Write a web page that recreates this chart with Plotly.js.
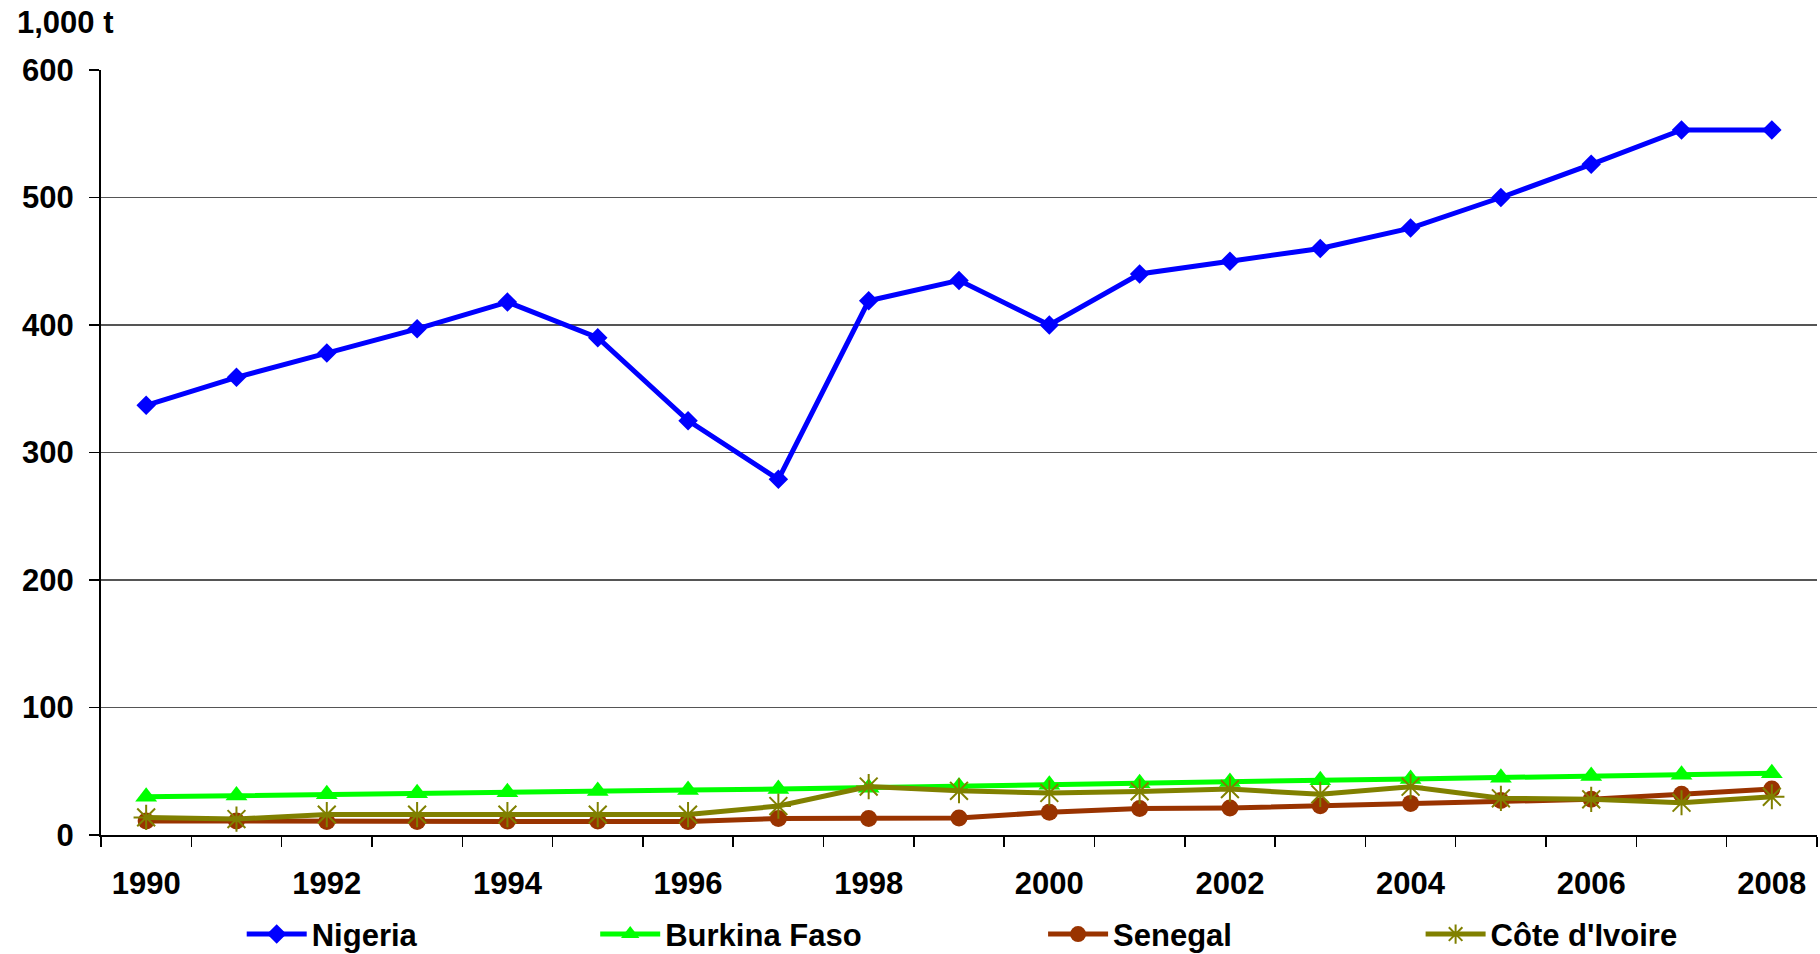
<!DOCTYPE html>
<html>
<head>
<meta charset="utf-8">
<script src="https://cdn.plot.ly/plotly-3.0.1.min.js"></script>
<style>
  html, body { margin: 0; padding: 0; background: #fff; }
  #chart { width: 1820px; height: 954px; }
</style>
</head>
<body>
<div id="chart"></div>
<script>
// Annual production, thousand tonnes
const years = [1990, 1991, 1992, 1993, 1994, 1995, 1996, 1997, 1998, 1999,
               2000, 2001, 2002, 2003, 2004, 2005, 2006, 2007, 2008];
const nigeria = [337, 359, 378, 397, 418, 390, 325, 279, 419, 435,
                 400, 440, 450, 460, 476, 500, 526, 553, 553];
const burkinaFaso = [30, 31, 32, 32.7, 33.5, 34.5, 35.3, 36, 37, 38,
                     39.5, 40.5, 41.6, 42.9, 44, 45, 46.3, 47.3, 48.4];
const senegal = [11, 11, 10.5, 10.5, 11, 11, 10.5, 13, 13, 13.4,
                 17.8, 20.7, 21.2, 23, 24.8, 27, 28, 32, 36];
const coteDIvoire = [13.8, 12.5, 16, 16, 16, 16, 16, 22.7, 38, 34.7,
                     33, 34.2, 36, 31.9, 37.9, 28.8, 28, 25.3, 30];
const yearLabels = [1990, 1992, 1994, 1996, 1998, 2000, 2002, 2004, 2006, 2008];

const FONT = 'Liberation Sans, Arial, sans-serif';
const TXT = { family: FONT, size: 31, color: '#000', weight: 'bold' };

function series(name, y, color, symbol, size, legendId, open) {
  return {
    type: 'scatter', mode: 'lines+markers', name: name,
    x: years, y: y, legend: legendId,
    line: { color: color, width: 5 },
    marker: open
      ? { symbol: symbol, size: size, color: color, line: { color: color, width: 2 } }
      : { symbol: symbol, size: size, color: color, line: { width: 0 } }
  };
}

const data = [
  series('Nigeria', nigeria, '#0000FF', 'diamond', 15, 'legend', false),
  series('Burkina Faso', burkinaFaso, '#00FF00', 'triangle-up', 19, 'legend2', false),
  series('Senegal', senegal, '#993300', 'circle', 17, 'legend3', false),
  series("Côte d'Ivoire", coteDIvoire, '#808000', 'asterisk-open', 21, 'legend4', true)
];

function legendAt(x) {
  return {
    orientation: 'h', x: x, xanchor: 'left', y: -0.13, yanchor: 'middle',
    font: TXT, bgcolor: 'rgba(0,0,0,0)', itemwidth: 60
  };
}

const layout = {
  width: 1820, height: 954,
  margin: { l: 101, r: 3, t: 70, b: 119, autoexpand: false },
  paper_bgcolor: '#fff', plot_bgcolor: '#fff',
  font: TXT,
  showlegend: true,
  legend: legendAt(0.082),
  legend2: legendAt(0.288),
  legend3: legendAt(0.549),
  legend4: legendAt(0.769),
  xaxis: {
    type: 'linear', range: [1989.5, 2008.5],
    tickmode: 'array', tickvals: yearLabels, ticktext: yearLabels.map(String),
    ticks: 'outside', ticklen: 20, tickcolor: 'rgba(0,0,0,0)',
    showgrid: false, zeroline: false,
    showline: true, linecolor: '#000', linewidth: 2,
    tickfont: TXT,
    minor: { tick0: 1989.5, dtick: 1, ticks: 'outside', ticklen: 10,
             tickcolor: '#000', tickwidth: 1.5, showgrid: false }
  },
  yaxis: {
    range: [0, 600], dtick: 100, tick0: 0,
    ticks: 'outside', ticklen: 10, tickcolor: '#000', tickwidth: 1.5,
    ticklabelstandoff: 9,
    showgrid: true, gridcolor: '#555', gridwidth: 1.2,
    zeroline: false, showline: true, linecolor: '#000', linewidth: 2,
    tickfont: TXT
  },
  annotations: [{
    text: '1,000 t', xref: 'paper', yref: 'paper', x: -0.050, y: 1.0,
    xanchor: 'left', yanchor: 'bottom', yshift: 28, showarrow: false,
    font: TXT
  }]
};

Plotly.newPlot('chart', data, layout, { displayModeBar: false, staticPlot: true });
</script>
</body>
</html>
